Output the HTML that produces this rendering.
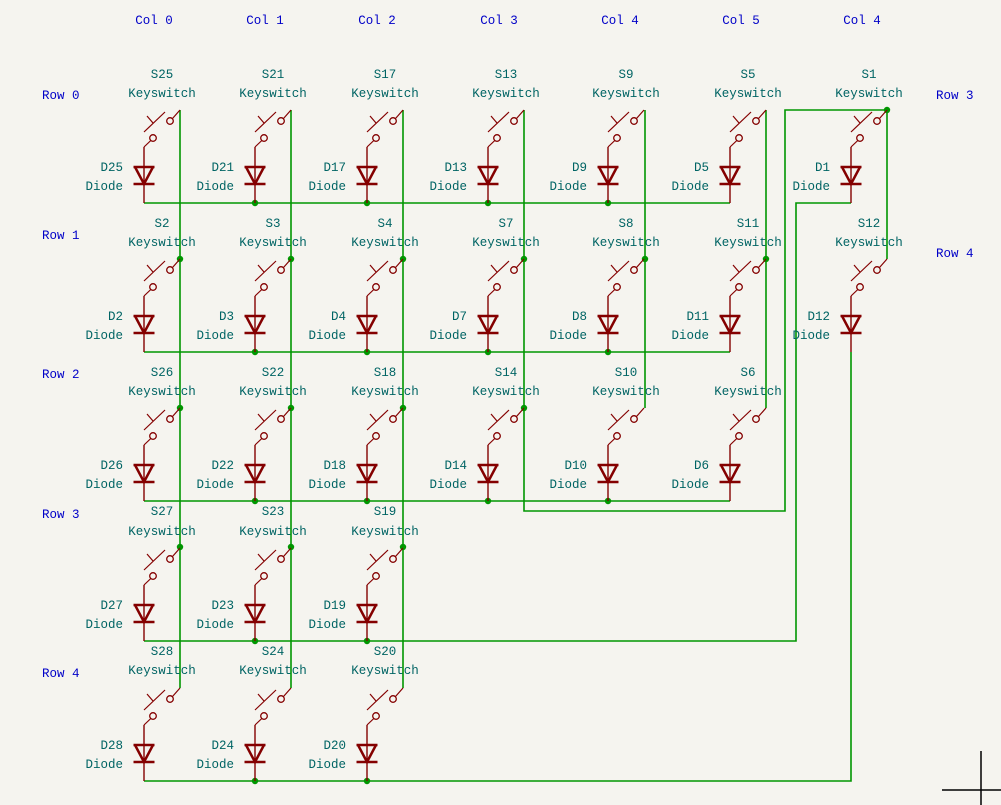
<!DOCTYPE html>
<html><head><meta charset="utf-8"><style>
html,body{margin:0;padding:0;background:#f5f4ef;}
svg{display:block;}
text{font-family:"Liberation Mono","DejaVu Sans Mono",monospace;font-size:12.5px;}
.ref{fill:#006464;}
.lbl{fill:#0000c8;}
.w{stroke:#009600;stroke-width:1.6;fill:none;}
.j{fill:#009600;}
</style></head><body>
<svg width="1001" height="805" viewBox="0 0 1001 805" xmlns="http://www.w3.org/2000/svg">
<defs>
<g id="cell" fill="none" stroke="#840000">
<line x1="28.5" y1="-84.5" x2="36" y2="-93" stroke-width="1.2"/>
<circle cx="26" cy="-82" r="3.3" stroke-width="1.3"/>
<line x1="0" y1="-71" x2="21" y2="-91" stroke-width="1.2"/>
<line x1="3" y1="-87" x2="9" y2="-80" stroke-width="1.2"/>
<circle cx="9" cy="-65" r="3.3" stroke-width="1.3"/>
<line x1="6.8" y1="-62.5" x2="0" y2="-56" stroke-width="1.2"/>
<line x1="0" y1="-56" x2="0" y2="0" stroke-width="1.4"/>
<line x1="-10.5" y1="-36" x2="10.5" y2="-36" stroke-width="2.5"/>
<polyline points="-9,-36 0,-19 9,-36" stroke-width="2.5"/>
<line x1="-10.5" y1="-19" x2="10.5" y2="-19" stroke-width="2.5"/>
</g>
</defs>

<g class="w">
<polyline points="180,110 180,688"/>
<polyline points="291,110 291,688"/>
<polyline points="403,110 403,688"/>
<polyline points="524,110 524,511 785,511 785,110 887,110"/>
<polyline points="645,110 645,408"/>
<polyline points="766,110 766,408"/>
<polyline points="887,110 887,259"/>
<polyline points="144,203 730,203"/>
<polyline points="851,203 796,203 796,641 144,641"/>
<polyline points="144,352 730,352"/>
<polyline points="144,501 730,501"/>
<polyline points="851,352 851,781 144,781"/>
</g>
<g class="j">
<circle cx="180" cy="259" r="3.2"/><circle cx="180" cy="408" r="3.2"/><circle cx="180" cy="547" r="3.2"/>
<circle cx="291" cy="259" r="3.2"/><circle cx="291" cy="408" r="3.2"/><circle cx="291" cy="547" r="3.2"/>
<circle cx="403" cy="259" r="3.2"/><circle cx="403" cy="408" r="3.2"/><circle cx="403" cy="547" r="3.2"/>
<circle cx="524" cy="259" r="3.2"/><circle cx="524" cy="408" r="3.2"/>
<circle cx="645" cy="259" r="3.2"/><circle cx="766" cy="259" r="3.2"/>
<circle cx="887" cy="110" r="3.2"/>
<circle cx="255" cy="203" r="3.2"/><circle cx="367" cy="203" r="3.2"/><circle cx="488" cy="203" r="3.2"/><circle cx="608" cy="203" r="3.2"/>
<circle cx="255" cy="352" r="3.2"/><circle cx="367" cy="352" r="3.2"/><circle cx="488" cy="352" r="3.2"/><circle cx="608" cy="352" r="3.2"/>
<circle cx="255" cy="501" r="3.2"/><circle cx="367" cy="501" r="3.2"/><circle cx="488" cy="501" r="3.2"/><circle cx="608" cy="501" r="3.2"/>
<circle cx="255" cy="641" r="3.2"/><circle cx="367" cy="641" r="3.2"/>
<circle cx="255" cy="781" r="3.2"/><circle cx="367" cy="781" r="3.2"/>
</g>

<use href="#cell" x="144" y="203"/><use href="#cell" x="255" y="203"/><use href="#cell" x="367" y="203"/><use href="#cell" x="488" y="203"/><use href="#cell" x="608" y="203"/><use href="#cell" x="730" y="203"/><use href="#cell" x="851" y="203"/>
<use href="#cell" x="144" y="352"/><use href="#cell" x="255" y="352"/><use href="#cell" x="367" y="352"/><use href="#cell" x="488" y="352"/><use href="#cell" x="608" y="352"/><use href="#cell" x="730" y="352"/><use href="#cell" x="851" y="352"/>
<use href="#cell" x="144" y="501"/><use href="#cell" x="255" y="501"/><use href="#cell" x="367" y="501"/><use href="#cell" x="488" y="501"/><use href="#cell" x="608" y="501"/><use href="#cell" x="730" y="501"/>
<use href="#cell" x="144" y="641"/><use href="#cell" x="255" y="641"/><use href="#cell" x="367" y="641"/>
<use href="#cell" x="144" y="781"/><use href="#cell" x="255" y="781"/><use href="#cell" x="367" y="781"/>

<g class="lbl" text-anchor="middle">
<text x="154" y="24">Col 0</text><text x="265" y="24">Col 1</text><text x="377" y="24">Col 2</text><text x="499" y="24">Col 3</text><text x="620" y="24">Col 4</text><text x="741" y="24">Col 5</text><text x="862" y="24">Col 4</text>
</g>
<g class="lbl">
<text x="42" y="99">Row 0</text><text x="42" y="239">Row 1</text><text x="42" y="378">Row 2</text><text x="42" y="518">Row 3</text><text x="42" y="677">Row 4</text>
<text x="936" y="99">Row 3</text><text x="936" y="257">Row 4</text>
</g>

<g class="ref" text-anchor="middle">
<text x="162" y="78">S25</text><text x="162" y="97">Keyswitch</text>
<text x="273" y="78">S21</text><text x="273" y="97">Keyswitch</text>
<text x="385" y="78">S17</text><text x="385" y="97">Keyswitch</text>
<text x="506" y="78">S13</text><text x="506" y="97">Keyswitch</text>
<text x="626" y="78">S9</text><text x="626" y="97">Keyswitch</text>
<text x="748" y="78">S5</text><text x="748" y="97">Keyswitch</text>
<text x="869" y="78">S1</text><text x="869" y="97">Keyswitch</text>

<text x="162" y="227">S2</text><text x="162" y="246">Keyswitch</text>
<text x="273" y="227">S3</text><text x="273" y="246">Keyswitch</text>
<text x="385" y="227">S4</text><text x="385" y="246">Keyswitch</text>
<text x="506" y="227">S7</text><text x="506" y="246">Keyswitch</text>
<text x="626" y="227">S8</text><text x="626" y="246">Keyswitch</text>
<text x="748" y="227">S11</text><text x="748" y="246">Keyswitch</text>
<text x="869" y="227">S12</text><text x="869" y="246">Keyswitch</text>

<text x="162" y="376">S26</text><text x="162" y="395">Keyswitch</text>
<text x="273" y="376">S22</text><text x="273" y="395">Keyswitch</text>
<text x="385" y="376">S18</text><text x="385" y="395">Keyswitch</text>
<text x="506" y="376">S14</text><text x="506" y="395">Keyswitch</text>
<text x="626" y="376">S10</text><text x="626" y="395">Keyswitch</text>
<text x="748" y="376">S6</text><text x="748" y="395">Keyswitch</text>

<text x="162" y="515">S27</text><text x="162" y="535">Keyswitch</text>
<text x="273" y="515">S23</text><text x="273" y="535">Keyswitch</text>
<text x="385" y="515">S19</text><text x="385" y="535">Keyswitch</text>

<text x="162" y="655">S28</text><text x="162" y="674">Keyswitch</text>
<text x="273" y="655">S24</text><text x="273" y="674">Keyswitch</text>
<text x="385" y="655">S20</text><text x="385" y="674">Keyswitch</text>
</g>

<g class="ref" text-anchor="end">
<text x="123" y="171">D25</text><text x="123" y="190">Diode</text>
<text x="234" y="171">D21</text><text x="234" y="190">Diode</text>
<text x="346" y="171">D17</text><text x="346" y="190">Diode</text>
<text x="467" y="171">D13</text><text x="467" y="190">Diode</text>
<text x="587" y="171">D9</text><text x="587" y="190">Diode</text>
<text x="709" y="171">D5</text><text x="709" y="190">Diode</text>
<text x="830" y="171">D1</text><text x="830" y="190">Diode</text>

<text x="123" y="320">D2</text><text x="123" y="339">Diode</text>
<text x="234" y="320">D3</text><text x="234" y="339">Diode</text>
<text x="346" y="320">D4</text><text x="346" y="339">Diode</text>
<text x="467" y="320">D7</text><text x="467" y="339">Diode</text>
<text x="587" y="320">D8</text><text x="587" y="339">Diode</text>
<text x="709" y="320">D11</text><text x="709" y="339">Diode</text>
<text x="830" y="320">D12</text><text x="830" y="339">Diode</text>

<text x="123" y="469">D26</text><text x="123" y="488">Diode</text>
<text x="234" y="469">D22</text><text x="234" y="488">Diode</text>
<text x="346" y="469">D18</text><text x="346" y="488">Diode</text>
<text x="467" y="469">D14</text><text x="467" y="488">Diode</text>
<text x="587" y="469">D10</text><text x="587" y="488">Diode</text>
<text x="709" y="469">D6</text><text x="709" y="488">Diode</text>

<text x="123" y="609">D27</text><text x="123" y="628">Diode</text>
<text x="234" y="609">D23</text><text x="234" y="628">Diode</text>
<text x="346" y="609">D19</text><text x="346" y="628">Diode</text>

<text x="123" y="749">D28</text><text x="123" y="768">Diode</text>
<text x="234" y="749">D24</text><text x="234" y="768">Diode</text>
<text x="346" y="749">D20</text><text x="346" y="768">Diode</text>
</g>

<line x1="981" y1="751" x2="981" y2="805" stroke="#000" stroke-width="1.5"/>
<line x1="942" y1="790" x2="1001" y2="790" stroke="#000" stroke-width="1.5"/>
</svg>
</body></html>
